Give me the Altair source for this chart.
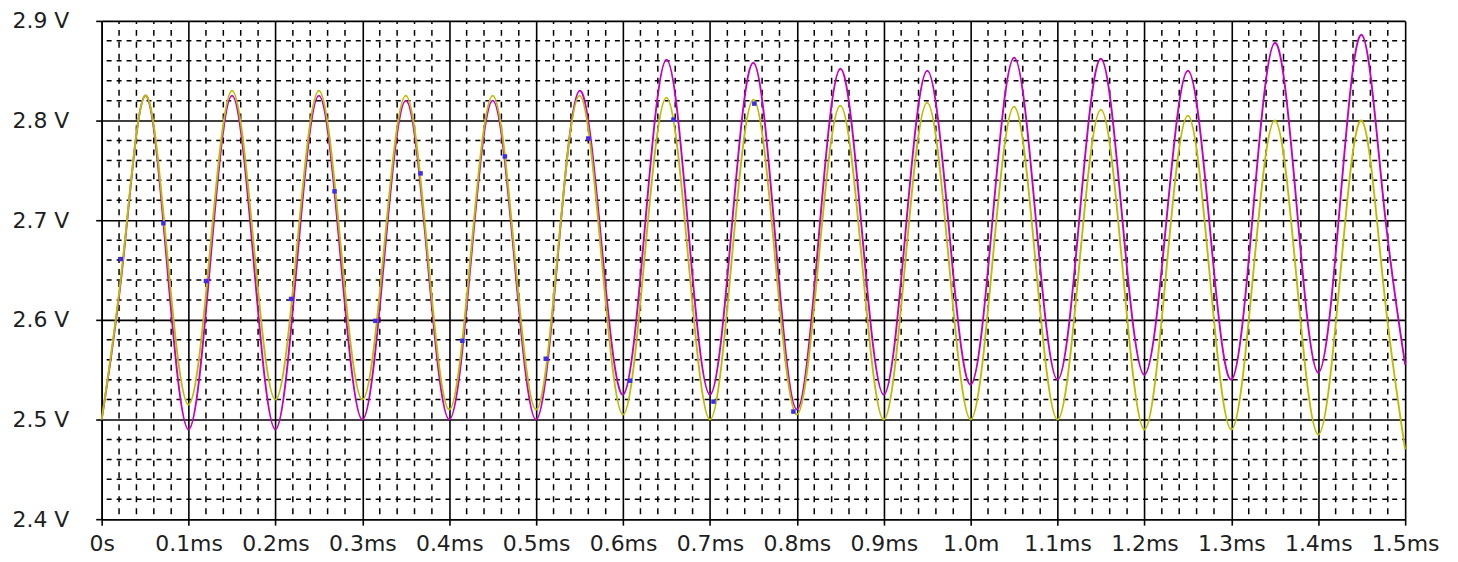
import altair as alt
import pandas as pd

# time samples (ms), quarter-period steps
t_ms = [round(i * 0.025, 3) for i in range(61)]

yellow_v = [
    2.500, 2.665, 2.825, 2.670, 2.515, 2.672, 2.830, 2.675, 2.520, 2.675,
    2.830, 2.675, 2.520, 2.672, 2.825, 2.668, 2.510, 2.668, 2.825, 2.668,
    2.510, 2.668, 2.825, 2.665, 2.505, 2.665, 2.823, 2.662, 2.500, 2.660,
    2.821, 2.662, 2.505, 2.660, 2.815, 2.658, 2.500, 2.660, 2.818, 2.658,
    2.500, 2.657, 2.814, 2.655, 2.500, 2.655, 2.811, 2.650, 2.490, 2.648,
    2.805, 2.646, 2.490, 2.645, 2.800, 2.642, 2.485, 2.642, 2.800, 2.635,
    2.470,
]

magenta_v = [
    2.500, 2.662, 2.825, 2.658, 2.490, 2.658, 2.825, 2.658, 2.490, 2.660,
    2.825, 2.662, 2.500, 2.660, 2.820, 2.660, 2.500, 2.660, 2.820, 2.660,
    2.500, 2.665, 2.830, 2.678, 2.525, 2.692, 2.861, 2.692, 2.525, 2.692,
    2.858, 2.684, 2.510, 2.681, 2.852, 2.688, 2.525, 2.688, 2.850, 2.692,
    2.535, 2.699, 2.863, 2.701, 2.540, 2.701, 2.862, 2.697, 2.545, 2.697,
    2.850, 2.695, 2.540, 2.709, 2.878, 2.716, 2.547, 2.716, 2.886, 2.720,
    2.555,
]

# small blue trace markers (time ms, volts)
marker_t = [0.022, 0.071, 0.120, 0.218, 0.268, 0.315, 0.367, 0.415, 0.464,
            0.511, 0.560, 0.608, 0.658, 0.704, 0.751, 0.796]
marker_v = [2.661, 2.697, 2.639, 2.621, 2.729, 2.599, 2.747, 2.579, 2.764,
            2.561, 2.782, 2.539, 2.801, 2.518, 2.817, 2.508]

x_labels = ["0s", "0.1ms", "0.2ms", "0.3ms", "0.4ms", "0.5ms", "0.6ms", "0.7ms",
            "0.8ms", "0.9ms", "1.0m", "1.1ms", "1.2ms", "1.3ms", "1.4ms", "1.5ms"]
y_labels = ["2.4 V", "2.5 V", "2.6 V", "2.7 V", "2.8 V", "2.9 V"]

YELLOW = "#bdbd00"
MAGENTA = "#c400c4"
BLUE = "#3a2cf0"

df = pd.DataFrame({
    "t": t_ms * 2,
    "v": yellow_v + magenta_v,
    "s": ["yellow"] * len(t_ms) + ["magenta"] * len(t_ms),
})
mk = pd.DataFrame({"t": marker_t, "v": marker_v})

minor_x = [round(i * 0.02, 3) for i in range(1, 75) if i % 5 != 0]
minor_y = [round(2.4 + i * 0.02, 3) for i in range(1, 25) if i % 5 != 0]

xs = alt.Scale(domain=[0, 1.5], nice=False, zero=False)
ys = alt.Scale(domain=[2.4, 2.9], nice=False, zero=False)

x_expr = "[" + ",".join("'" + s + "'" for s in x_labels) + "][round(datum.value*10)]"
y_expr = "[" + ",".join("'" + s + "'" for s in y_labels) + "][round((datum.value-2.4)*10)]"

FONT = "DejaVu Sans"

xaxis = alt.Axis(values=[round(i * 0.1, 1) for i in range(16)], labelExpr=x_expr,
                 title=None, grid=True, gridColor="black", gridWidth=1.6,
                 domainColor="black", domainWidth=1.6, tickColor="black",
                 tickSize=6, tickWidth=1.6, labelFont=FONT, labelFontSize=22,
                 labelColor="#1e1e1e", labelPadding=8, labelFlush=False)
yaxis = alt.Axis(values=[round(2.4 + i * 0.1, 1) for i in range(6)], labelExpr=y_expr,
                 title=None, grid=True, gridColor="black", gridWidth=1.6,
                 domainColor="black", domainWidth=1.6, tickColor="black",
                 tickSize=6, tickWidth=1.6, labelFont=FONT, labelFontSize=22,
                 labelColor="#1e1e1e", labelPadding=27, labelBaseline="middle")

vgrid = alt.Chart(pd.DataFrame({"t": minor_x})).mark_rule(
    color="black", strokeWidth=1.5, strokeDash=[6, 6], strokeDashOffset=3
).encode(x=alt.X("t:Q", scale=xs, axis=xaxis))

hgrid = alt.Chart(pd.DataFrame({"v": minor_y})).mark_rule(
    color="black", strokeWidth=1.5, strokeDash=[5, 5], strokeDashOffset=2
).encode(y=alt.Y("v:Q", scale=ys, axis=yaxis))

lines = alt.Chart(df).mark_line(strokeWidth=1.9, interpolate="natural").encode(
    x=alt.X("t:Q", scale=xs, axis=xaxis),
    y=alt.Y("v:Q", scale=ys, axis=yaxis),
    color=alt.Color("s:N", scale=alt.Scale(domain=["magenta", "yellow"],
                                           range=[MAGENTA, YELLOW]), legend=None),
    order=alt.Order("t:Q"),
    detail="s:N",
)

mag = lines.transform_filter("datum.s == 'magenta'")
yel = lines.transform_filter("datum.s == 'yellow'")

markers = alt.Chart(mk).mark_square(size=20, color=BLUE, opacity=1).encode(
    x=alt.X("t:Q", scale=xs, axis=xaxis),
    y=alt.Y("v:Q", scale=ys, axis=yaxis),
)

chart = alt.layer(vgrid, hgrid, mag, yel, markers).properties(
    width=1308, height=500,
    padding={"left": 94, "top": 12, "right": 45, "bottom": 40},
    autosize="none",
).configure_view(stroke="black", strokeWidth=1.6).configure(background="white")

chart.save("out.html", embed_options={"renderer": "svg", "actions": False})
